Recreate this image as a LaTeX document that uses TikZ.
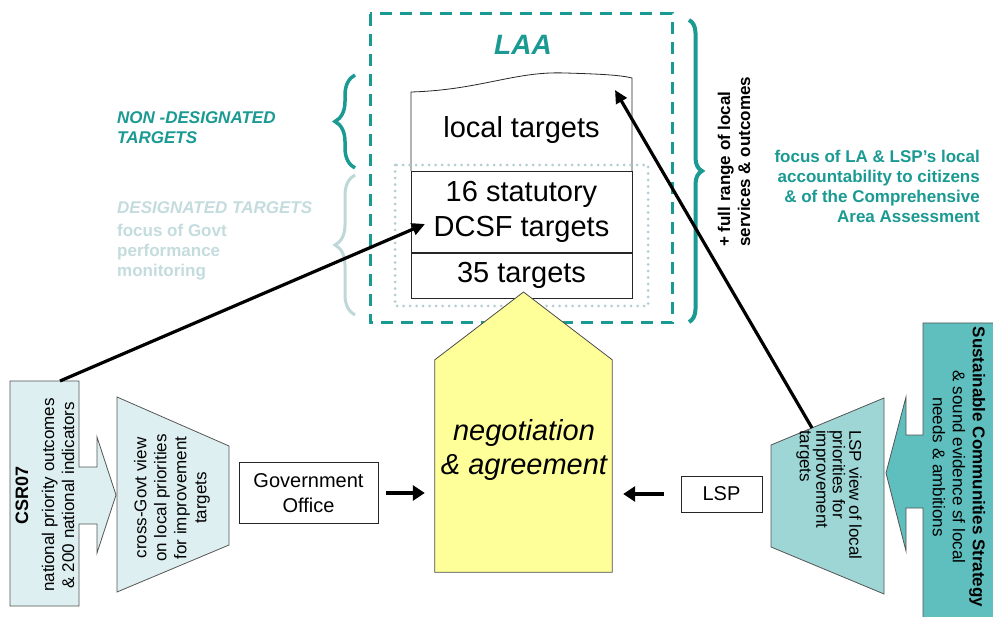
\documentclass[tikz,border=0pt]{standalone}
\usepackage{fontspec}
\setmainfont{Liberation Sans}
\usetikzlibrary{arrows.meta,decorations.pathreplacing,calc}
\definecolor{tealA}{RGB}{26,154,146}
\definecolor{lighttxt}{RGB}{196,220,222}
\definecolor{lightbrace}{RGB}{190,216,218}
\definecolor{dotc}{RGB}{180,205,210}
\definecolor{palefill}{RGB}{222,239,241}
\definecolor{lspfill}{RGB}{158,213,213}
\definecolor{scsfill}{RGB}{95,190,190}
\definecolor{outl}{RGB}{85,85,85}
\definecolor{yel}{RGB}{255,255,153}
\newcommand{\fbig}{\fontsize{29}{35}\selectfont}
\newcommand{\fmid}{\fontsize{20}{25}\selectfont}
\newcommand{\fsm}{\fontsize{17}{20}\selectfont}
\begin{document}
\begin{tikzpicture}[x=1pt,y=-1pt,
  shapeline/.style={draw=outl, line width=0.8pt},
  ghost/.style={inner sep=0pt, draw=none},
  tbox/.style={draw=black!85, line width=0.8pt, inner sep=0pt, align=center, font=\fbig, minimum width=221pt},
  wbox/.style={draw=black!85, fill=white, line width=0.8pt, inner sep=0pt, align=center, font=\fmid},
  arr/.style={line width=3.2pt, -{Triangle[length=13pt,width=12pt]}},
  sarr/.style={line width=4pt, -{Triangle[length=12pt,width=15pt]}},
  smtxt/.style={font=\fsm, inner sep=0pt},
  bracestyle/.style={decorate, decoration={brace, amplitude=#1}},
]
\useasboundingbox (0,0) rectangle (993,617);
\fill[white] (0,0) rectangle (993,617);
\begin{scope}
\clip (0,0) rectangle (993,617);

% LAA dashed frame
\draw[tealA, line width=3pt, dash pattern=on 12pt off 8pt] (370,14) rectangle (672,323);
\node[ghost, font=\fontsize{28}{30}\selectfont\bfseries\itshape, text=tealA] (laa) at (523,45) {LAA};

% stack of target boxes
\draw[line width=0.8pt, draw=black!85] (411,171) -- (411,92) .. controls (480,90) and (515,71) .. (565,73) .. controls (600,74) and (620,75) .. (632,78) -- (632,171);
\node[ghost, font=\fbig] (local) at (521.5,130) {local targets};
\node[tbox, minimum height=81pt] (stat) at (521.5,211.5) {16 statutory\\DCSF targets};
\node[tbox, minimum height=45pt] (t35) at (521.5,275.8) {35 targets};

% dotted designated frame
\draw[dotc, line width=3pt, line cap=round, dash pattern=on 0pt off 6.5pt] (395,165) rectangle (648,306);

% braces
\draw[bracestyle=20pt, tealA, line width=3.5pt] (355,168) -- (355,75);
\draw[bracestyle=20pt, lightbrace, line width=3pt] (355,315) -- (355,175);
\draw[bracestyle=13pt, tealA, line width=4pt] (689,20) -- (689,322);

% side texts
\node[smtxt, font=\fsm\bfseries\itshape, text=tealA, align=left, anchor=west] (nond) at (117,127.5) {NON -DESIGNATED\\TARGETS};
\node[smtxt, font=\fsm\bfseries, text=lighttxt, align=left, anchor=west] (des) at (117,241) {\textit{DESIGNATED TARGETS}\\[3pt]focus of Govt\\performance\\monitoring};
\node[smtxt, font=\fsm\bfseries, align=left, rotate=90, anchor=west] (full) at (734,247) {+ full range of local\\services \& outcomes};
\node[smtxt, font=\fsm\bfseries, text=tealA, align=right, anchor=east] (focus) at (980,186) {focus of LA \& LSP’s local\\accountability to citizens\\\& of the Comprehensive\\Area Assessment};

% CSR07 arrow box
\draw[shapeline, fill=palefill] (10,381) -- (79,381) -- (79,467) -- (97,467) -- (97,437) -- (116,495) -- (97,553) -- (97,524) -- (79,524) -- (79,606) -- (10,606) -- cycle;
\node[smtxt, rotate=90, align=center] (csr) at (45,495) {{\bfseries\fontsize{18}{20}\selectfont CSR07}\\[6pt]national priority outcomes\\\& 200 national indicators};

% cross-Govt trapezoid
\draw[shapeline, fill=palefill] (117,397) -- (229,446) -- (229,545) -- (117,592) -- cycle;
\node[smtxt, rotate=90, align=center] (cg) at (172,498) {cross-Govt view\\on local priorities\\for improvement\\targets};

% Government Office
\node[wbox, minimum width=139pt, minimum height=61pt] (gov) at (308.5,493) {Government\\Office};

% negotiation pentagon
\node[ghost, minimum width=177pt, minimum height=212pt] (neg) at (523.5,466) {};
\coordinate (apex) at (523.5,292);
\fill[yel] (neg.south west) -- (neg.north west) -- (apex) -- (neg.north east) -- (neg.south east) -- cycle;
\draw[draw=black!70, line width=0.8pt] (neg.south west) -- (neg.north west) -- (apex) -- (neg.north east) -- (neg.south east) -- cycle;
\node[ghost, font=\fontsize{29}{34}\selectfont\itshape, align=center] (negt) at (524,450) {negotiation\\\& agreement};

% LSP
\node[wbox, minimum width=81pt, minimum height=36pt] (lsp) at (721.5,494) {LSP};

% LSP view trapezoid
\draw[shapeline, fill=lspfill] (771,445) -- (884,398) -- (884,594) -- (771,547) -- cycle;
\node[smtxt, font=\fontsize{17}{16.5}\selectfont, rotate=-90, align=left, anchor=west] (lspv) at (829,430) {LSP view of local\\priorities for\\improvement\\targets};

% Sustainable Communities Strategy arrow box
\draw[shapeline, fill=scsfill] (923,323) -- (1000,323) -- (1000,620) -- (923,620) -- (923,508) -- (906,508) -- (906,551) -- (886,473) -- (906,397) -- (906,435) -- (923,435) -- cycle;
\node[smtxt, rotate=-90, align=center] (scs) at (959,467) {{\bfseries Sustainable Communities Strategy}\\\& sound evidence sf local\\needs \& ambitions};

% connectors
\coordinate (csrtop) at (60,381);
\coordinate (stattip) at (425,224);
\coordinate (lsptop) at (812,428);
\coordinate (loctip) at (615,90);
\draw[arr] (csrtop) -- (stattip);
\draw[arr] (lsptop) -- (loctip);
\draw[sarr, shorten <=8pt, shorten >=10pt] (gov.east) -- (gov.east -| neg.west);
\draw[sarr, shorten <=17pt, shorten >=11pt] (lsp.west) -- (lsp.west -| neg.east);
\end{scope}
\end{tikzpicture}
\end{document}
